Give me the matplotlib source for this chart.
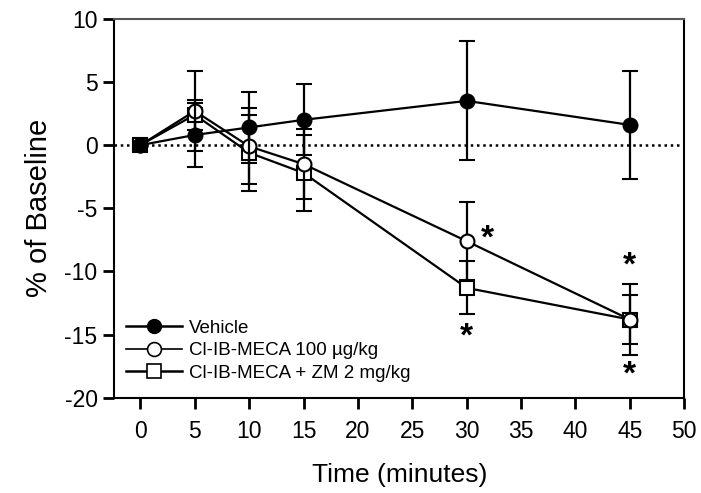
import matplotlib.pyplot as plt
from matplotlib.lines import Line2D
import numpy as np

plt.rcParams["font.family"] = ["Liberation Sans", "DejaVu Sans"]
plt.rcParams["axes.unicode_minus"] = False

time = np.array([0, 5, 10, 15, 30, 45])

vehicle = np.array([0, 0.8, 1.4, 2.0, 3.5, 1.6])
vehicle_err = np.array([0, 2.5, 2.8, 2.8, 4.7, 4.3])

meca = np.array([0, 2.7, -0.1, -1.5, -7.6, -13.8])
meca_err = np.array([0, 3.2, 3.0, 2.8, 3.1, 2.8])

meca_zm = np.array([0, 2.4, -0.6, -2.2, -11.3, -13.8])
meca_zm_err = np.array([0, 1.2, 3.0, 3.0, 2.1, 1.9])

labels = ["Vehicle", "Cl-IB-MECA 100 \u00b5g/kg", "Cl-IB-MECA + ZM 2 mg/kg"]

# significance stars (x, y)
stars = [(31.9, -7.4), (30, -15.2), (45, -9.6), (45, -18.2)]

fig = plt.figure(figsize=(7.01, 4.93), dpi=100)
ax = fig.add_axes([0.163, 0.193, 0.813, 0.769])

ax.axhline(0, color="black", ls=(0, (1, 1.5)), lw=1.8, zorder=1)

common = dict(color="black", lw=1.6, capsize=6, capthick=1.6, elinewidth=1.6,
              markersize=10, markeredgewidth=1.5)
ax.errorbar(time, meca_zm, yerr=meca_zm_err, marker="s", mfc="white", zorder=3, **common)
ax.errorbar(time, meca, yerr=meca_err, marker="o", mfc="white", zorder=4, **common)
ax.errorbar(time, vehicle, yerr=vehicle_err, marker="o", mfc="black", zorder=5, **common)

for sx, sy in stars:
    ax.text(sx, sy, "*", fontsize=24, fontweight="bold", ha="center", va="center")

ax.set_xlim(-2.4, 50)
ax.set_ylim(-20, 10)
ax.set_xticks(np.arange(0, 51, 5))
ax.set_yticks(np.arange(-20, 11, 5))
ax.tick_params(direction="out", length=8, width=2, labelsize=16.5, top=False, right=False)
ax.tick_params(axis="x", pad=8)
ax.tick_params(axis="y", pad=4)
for sp in ax.spines.values():
    sp.set_linewidth(1.5)
ax.spines["top"].set_color("#555555")

ax.set_xlabel("Time (minutes)", fontsize=19, labelpad=14)
ax.set_ylabel("% of Baseline", fontsize=21, labelpad=8)

handles = [
    Line2D([], [], color="black", lw=1.8, marker="o", mfc="black", markersize=10),
    Line2D([], [], color="black", lw=1.2, marker="o", mfc="white", markersize=10, markeredgewidth=1.2),
    Line2D([], [], color="black", lw=1.8, marker="s", mfc="white", markersize=10, markeredgewidth=1.2),
]
ax.legend(handles, labels, loc="lower left", frameon=False,
          fontsize=13.5, handlelength=3.0, handletextpad=0.4, labelspacing=0.3,
          borderaxespad=0.2, bbox_to_anchor=(0.0, 0.012))

fig.savefig("out.png", dpi=100)
